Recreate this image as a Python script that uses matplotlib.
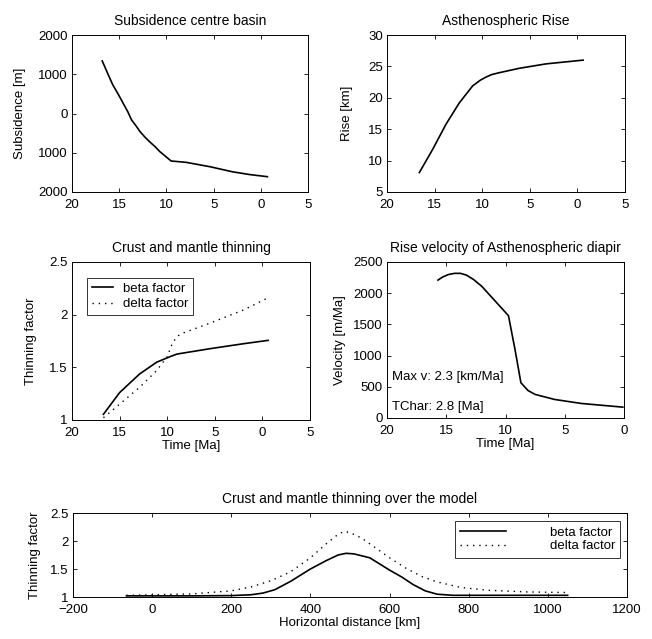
import numpy as np
import matplotlib
matplotlib.use("Agg")
import matplotlib.pyplot as plt

plt.rcParams['font.family'] = ['Liberation Sans', 'DejaVu Sans']
plt.rcParams['font.size'] = 9.5

# Subsidence centre basin
sub_time = [16.8, 16.2, 15.7, 15.1, 14.6, 14.1, 13.7, 13.2, 12.8, 12.3, 11.8, 11.2, 10.7, 10.1, 9.5,
            7.9, 5.4, 3.0, 1.2, -0.7]
sub_val = [1340, 1010, 740, 490, 270, 50, -160, -320, -460, -595, -715, -845, -970, -1090, -1210,
           -1245, -1355, -1485, -1555, -1610]

# Asthenospheric rise
rise_time = [16.6, 15.2, 13.8, 12.4, 11.0, 10.2, 9.6, 9.0, 8.2, 6.1, 3.3, -0.6]
rise_val = [8.1, 11.8, 15.8, 19.2, 21.9, 22.8, 23.3, 23.7, 24.0, 24.7, 25.4, 26.0]

# Crust and mantle thinning vs time
thin_time = [16.7, 15.0, 12.9, 11.1, 9.6, 9.0, 8.5, 5.5, 2.0, -0.6]
beta_t = [1.054, 1.26, 1.437, 1.549, 1.605, 1.625, 1.633, 1.677, 1.724, 1.756]
delta_time = [16.7, 15.0, 12.9, 11.1, 10.0, 9.5, 9.0, 8.5, 5.5, 2.0, -0.6]
delta_t = [1.022, 1.15, 1.31, 1.47, 1.60, 1.72, 1.79, 1.82, 1.92, 2.044, 2.16]

# Rise velocity of asthenospheric diapir
vel_time = [15.7, 15.3, 14.8, 14.3, 13.8, 13.3, 12.7, 12.0, 10.9, 9.75, 9.2, 8.7, 8.1, 7.5, 5.85,
            3.6, 0.1]
vel_val = [2210, 2260, 2300, 2318, 2318, 2290, 2220, 2110, 1880, 1640, 1100, 565, 440, 378, 297,
           233, 174]

# Thinning over the model
beta_x = [-65, 0, 100, 200, 250, 280, 310, 350, 400, 440, 470, 490, 510, 550,
          600, 630, 660, 690, 720, 760, 850, 950, 1050]
beta_y = [1.02, 1.02, 1.02, 1.025, 1.04, 1.07, 1.13, 1.28, 1.50, 1.65, 1.75, 1.78,
          1.77, 1.70, 1.48, 1.36, 1.22, 1.11, 1.05, 1.03, 1.03, 1.03, 1.03]
delta_x = [-65, 0, 100, 200, 250, 300, 350, 400, 440, 470, 485, 500, 530, 560,
           600, 640, 680, 720, 780, 850, 950, 1050]
delta_y = [1.03, 1.04, 1.055, 1.11, 1.18, 1.29, 1.45, 1.70, 1.95, 2.12, 2.17, 2.15,
           2.05, 1.90, 1.70, 1.52, 1.37, 1.27, 1.17, 1.12, 1.09, 1.08]

time_ticks = [20, 15, 10, 5, 0, -5]
time_labels = ['20', '15', '10', '5', '0', '5']
sub_ticks = [2000, 1000, 0, -1000, -2000]
sub_labels = ['2000', '1000', '0', '1000', '2000']
thin_ticks = [1, 1.5, 2, 2.5]
thin_labels = ['1', '1.5', '2', '2.5']

W, H = 652, 639
fig = plt.figure(figsize=(W / 100, H / 100), dpi=100)


def make_axes(left, right, top, bottom):
    ax = fig.add_axes([left / W, 1 - bottom / H, (right - left) / W, (bottom - top) / H])
    ax.tick_params(direction='in', length=3, top=True, right=True, width=0.6, pad=3)
    ax.tick_params(axis='x', pad=5)
    for s in ax.spines.values():
        s.set_linewidth(0.7)
    return ax


dotted = (0, (1, 3.5))
title_fs = 10

# top left
ax1 = make_axes(72, 308, 35, 192)
ax1.plot(sub_time, sub_val, color='black', lw=1.2)
ax1.set_xlim(20, -5)
ax1.set_ylim(-2000, 2000)
ax1.set_xticks(time_ticks, time_labels)
ax1.set_yticks(sub_ticks, sub_labels)
ax1.set_title('Subsidence centre basin', pad=7, fontsize=title_fs)
ax1.set_ylabel('Subsidence [m]', labelpad=9)

# top right
ax2 = make_axes(387, 625, 35, 192)
ax2.plot(rise_time, rise_val, color='black', lw=1.2)
ax2.set_xlim(20, -5)
ax2.set_ylim(5, 30)
ax2.set_xticks(time_ticks, time_labels)
ax2.set_yticks([5, 10, 15, 20, 25, 30])
ax2.set_title('Asthenospheric Rise', pad=7, fontsize=title_fs)
ax2.set_ylabel('Rise [km]', labelpad=11)

# middle left
ax3 = make_axes(72, 310, 262, 420)
ax3.plot(thin_time, beta_t, color='black', lw=1.2, label='beta factor')
ax3.plot(delta_time, delta_t, color='black', lw=1.0, ls=dotted, label='delta factor')
ax3.set_xlim(20, -5)
ax3.set_ylim(1, 2.5)
ax3.set_xticks(time_ticks, time_labels)
ax3.set_yticks(thin_ticks, thin_labels)
ax3.set_title('Crust and mantle thinning', pad=7, fontsize=title_fs)
ax3.set_ylabel('Thinning factor', labelpad=9)
ax3.set_xlabel('Time [Ma]', labelpad=1)
leg = ax3.legend(loc='upper left', bbox_to_anchor=(0.063, 0.9), frameon=True, fancybox=False,
                 edgecolor='black', handlelength=1.6, handletextpad=0.8, borderpad=0.35,
                 labelspacing=0.25, borderaxespad=0)
leg.get_frame().set_linewidth(0.7)

# middle right
ax4 = make_axes(387, 624, 262, 418)
ax4.plot(vel_time, vel_val, color='black', lw=1.2)
ax4.set_xlim(20, 0)
ax4.set_ylim(0, 2500)
ax4.set_xticks([20, 15, 10, 5, 0])
ax4.set_yticks([0, 500, 1000, 1500, 2000, 2500])
ax4.set_title('Rise velocity of Asthenospheric diapir', pad=7, fontsize=title_fs)
ax4.set_ylabel('Velocity [m/Ma]', labelpad=5)
ax4.set_xlabel('Time [Ma]', labelpad=1)
ax4.text(0.022, 0.26, 'Max v: 2.3 [km/Ma]', transform=ax4.transAxes, va='center')
ax4.text(0.022, 0.07, 'TChar: 2.8 [Ma]', transform=ax4.transAxes, va='center')

# bottom
ax5 = make_axes(73, 627, 513, 597)
ax5.plot(beta_x, beta_y, color='black', lw=1.2, label='beta factor')
ax5.plot(delta_x, delta_y, color='black', lw=1.0, ls=dotted, label='delta factor')
ax5.set_xlim(-200, 1200)
ax5.set_ylim(1, 2.5)
ax5.set_xticks(range(-200, 1201, 200))
ax5.set_yticks(thin_ticks, thin_labels)
ax5.set_title('Crust and mantle thinning over the model', pad=7, fontsize=title_fs)
ax5.set_ylabel('Thinning factor', labelpad=7)
ax5.set_xlabel('Horizontal distance [km]', labelpad=1)
leg2 = ax5.legend(loc='upper right', bbox_to_anchor=(0.988, 0.9), frameon=True, fancybox=False,
                  edgecolor='black', handlelength=3.5, handletextpad=3.3, borderpad=0.4,
                  labelspacing=0.1, borderaxespad=0)
leg2.get_frame().set_linewidth(0.7)

fig.savefig('out.png', dpi=100, facecolor='white')
